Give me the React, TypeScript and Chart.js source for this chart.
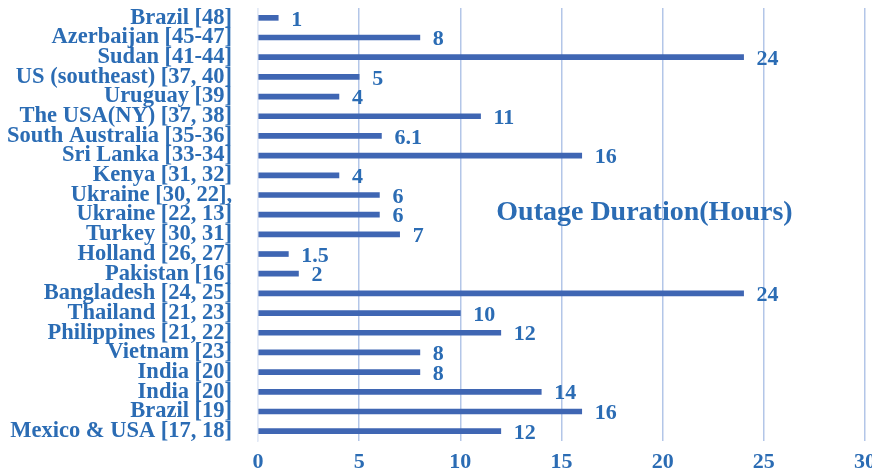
import React, { useEffect, useRef } from "react";
import { Chart, registerables } from "chart.js";

Chart.register(...registerables);

const categories = [
  "Brazil [48]",
  "Azerbaijan [45-47]",
  "Sudan [41-44]",
  "US (southeast) [37, 40]",
  "Uruguay [39]",
  "The USA(NY) [37, 38]",
  "South Australia [35-36]",
  "Sri Lanka [33-34]",
  "Kenya [31, 32]",
  "Ukraine [30, 22],",
  "Ukraine [22, 13]",
  "Turkey [30, 31]",
  "Holland [26, 27]",
  "Pakistan [16]",
  "Bangladesh [24, 25]",
  "Thailand [21, 23]",
  "Philippines [21, 22]",
  "Vietnam [23]",
  "India [20]",
  "India [20]",
  "Brazil [19]",
  "Mexico & USA [17, 18]",
];

const outageHours = [1, 8, 24, 5, 4, 11, 6.1, 16, 4, 6, 6, 7, 1.5, 2, 24, 10, 12, 8, 8, 14, 16, 12];

const xTicks = [0, 5, 10, 15, 20, 25, 30];

const chartTitle = "Outage Duration(Hours)";

const TEXT_COLOR = "#2B6CB4";
const BAR_COLOR = "#3F66B3";
const FONT = "'Liberation Serif', 'Times New Roman', serif";

export default function App() {
  const canvasRef = useRef<HTMLCanvasElement | null>(null);

  useEffect(() => {
    if (!canvasRef.current) return;

    const valueLabels = {
      id: "valueLabels",
      afterDatasetsDraw(chart: any) {
        const ctx = chart.ctx;
        const meta = chart.getDatasetMeta(0);
        const xs = chart.scales.x;
        ctx.save();
        ctx.font = `bold 22px ${FONT}`;
        ctx.fillStyle = TEXT_COLOR;
        ctx.textAlign = "left";
        ctx.textBaseline = "middle";
        meta.data.forEach((bar: any, i: number) => {
          const v = outageHours[i];
          ctx.fillText(String(v), xs.getPixelForValue(v) + 13, bar.y + 2);
        });
        ctx.font = `bold 28px ${FONT}`;
        ctx.textAlign = "center";
        const ys = chart.scales.y;
        ctx.fillText(chartTitle, xs.getPixelForValue(19.1), (ys.top + ys.bottom) / 2 - 12);
        ctx.restore();
      },
    };

    const chart = new Chart(canvasRef.current, {
      type: "bar",
      data: {
        labels: categories,
        datasets: [
          {
            data: outageHours,
            backgroundColor: BAR_COLOR,
            barThickness: 5,
          },
        ],
      },
      options: {
        indexAxis: "y",
        animation: false,
        responsive: true,
        maintainAspectRatio: false,
        layout: { padding: { top: 0, right: 7, bottom: 0, left: 0 } },
        plugins: {
          legend: { display: false },
          tooltip: { enabled: false },
          title: { display: false },
        },
        scales: {
          x: {
            min: 0,
            max: 30,
            afterBuildTicks: (axis: any) => {
              axis.ticks = xTicks.map((v) => ({ value: v }));
            },
            afterFit: (axis: any) => {
              axis.height = 32;
              axis.paddingLeft = 0;
              axis.paddingRight = 0;
            },
            grid: {
              drawTicks: false,
              color: (c: any) => (c.index === 0 ? "#E3EAF6" : "#B3C6E8"),
              lineWidth: 1.5,
            },
            border: { display: false },
            ticks: {
              padding: 9,
              color: TEXT_COLOR,
              font: { family: FONT, size: 22, weight: "bold", lineHeight: 1.1 },
            },
          },
          y: {
            afterFit: (axis: any) => {
              axis.width = 250;
              axis.paddingTop = 0;
              axis.paddingBottom = 0;
            },
            grid: { display: false, drawTicks: false },
            border: { display: true, color: "#E3EAF6", width: 1.5 },
            ticks: {
              padding: 26,
              autoSkip: false,
              color: TEXT_COLOR,
              font: { family: FONT, size: 22.5, weight: "bold", lineHeight: 1 },
            },
          },
        },
      },
      plugins: [valueLabels],
    } as any);

    return () => chart.destroy();
  }, []);

  return (
    <div style={{ width: 864, height: 465, position: "relative" }}>
      <canvas ref={canvasRef} />
    </div>
  );
}
